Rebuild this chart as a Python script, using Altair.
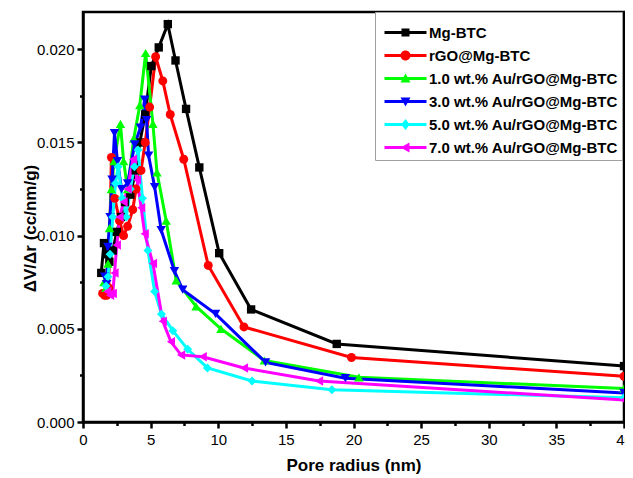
import altair as alt
import pandas as pd

series_names = ["Mg-BTC", "rGO@Mg-BTC", "1.0 wt.% Au/rGO@Mg-BTC",
                "3.0 wt.% Au/rGO@Mg-BTC", "5.0 wt.% Au/rGO@Mg-BTC", "7.0 wt.% Au/rGO@Mg-BTC"]
series_colors = ["#000000", "#ff0000", "#00ff00", "#0000ff", "#00ffff", "#ff00ff"]
plot_shapes = ["square", "circle", "triangle-up", "triangle-down", "diamond", "triangle-left"]
plot_sizes = [70, 80, 90, 90, 80, 90]

mg_x = [1.35, 1.55, 1.75, 1.95, 2.2, 2.5, 2.8, 3.1, 3.5, 3.9, 4.2, 4.6, 5.05, 5.6, 6.27, 6.84, 7.62, 8.6, 10.07, 12.43, 18.76, 40.0]
mg_y = [0.0080, 0.0096, 0.0090, 0.0086, 0.0092, 0.0102, 0.0110, 0.0118, 0.0122, 0.0135, 0.0150, 0.0165, 0.0191, 0.0201, 0.02135, 0.0194, 0.0168, 0.01366, 0.00906, 0.00604, 0.00419, 0.0030]

rgo_x = [1.45, 1.6, 1.75, 1.9, 2.1, 2.35, 2.7, 3.0, 3.3, 3.68, 3.92, 4.29, 4.6, 4.93, 5.37, 5.9, 6.45, 7.45, 9.26, 11.9, 19.85, 40.0]
rgo_y = [0.0069, 0.0068, 0.0068, 0.0072, 0.0142, 0.0120, 0.0108, 0.0100, 0.0105, 0.0114, 0.0125, 0.0135, 0.0150, 0.0169, 0.0196, 0.0183, 0.0165, 0.0141, 0.0084, 0.0051, 0.00346, 0.00245]

au1_x = [1.55, 1.7, 1.85, 1.96, 2.1, 2.3, 2.77, 3.0, 3.3, 3.75, 4.2, 4.63, 5.17, 5.47, 6.15, 6.89, 8.36, 10.2, 13.4, 20.4, 40.0]
au1_y = [0.0075, 0.0072, 0.0085, 0.0104, 0.0125, 0.0140, 0.0160, 0.0140, 0.0125, 0.0152, 0.0170, 0.0198, 0.0160, 0.0134, 0.0108, 0.0076, 0.0062, 0.0050, 0.0033, 0.0024, 0.0018]

au3_x = [1.6, 1.75, 1.84, 2.0, 2.15, 2.33, 2.55, 2.85, 3.3, 3.82, 4.25, 4.56, 4.7, 4.85, 5.3, 5.78, 6.76, 7.37, 9.8, 13.5, 19.4, 40.0]
au3_y = [0.0078, 0.0074, 0.0094, 0.0110, 0.0130, 0.0155, 0.0140, 0.0125, 0.0128, 0.0149, 0.0158, 0.0173, 0.0162, 0.0143, 0.0126, 0.0103, 0.0081, 0.0071, 0.0058, 0.0032, 0.00235, 0.00156]

au5_x = [1.7, 1.85, 2.0, 2.2, 2.4, 2.6, 2.9, 3.2, 3.5, 3.8, 4.07, 4.4, 4.8, 5.3, 5.8, 6.64, 7.74, 9.2, 12.5, 18.4, 40.0]
au5_y = [0.0073, 0.0078, 0.0090, 0.0110, 0.0128, 0.0137, 0.0120, 0.0110, 0.0125, 0.0137, 0.0146, 0.0120, 0.0092, 0.0070, 0.0058, 0.0049, 0.0039, 0.0029, 0.0022, 0.00173, 0.0013]

au7_x = [1.8, 2.0, 2.2, 2.33, 2.5, 2.7, 3.0, 3.3, 3.7, 4.0, 4.3, 4.56, 5.17, 5.9, 6.5, 7.25, 8.85, 11.9, 17.45, 40.0]
au7_y = [0.0070, 0.0068, 0.0069, 0.0080, 0.0095, 0.0110, 0.0118, 0.0125, 0.0141, 0.0130, 0.0115, 0.0101, 0.0085, 0.0054, 0.0043, 0.0036, 0.0035, 0.0029, 0.0022, 0.00118]

x_major = [0, 5, 10, 15, 20, 25, 30, 35, 40]
x_minor = [2.5, 7.5, 12.5, 17.5, 22.5, 27.5, 32.5, 37.5]
y_major = [0.0, 0.005, 0.010, 0.015, 0.020]
y_minor = [0.0025, 0.0075, 0.0125, 0.0175]

all_x = [mg_x, rgo_x, au1_x, au3_x, au5_x, au7_x]
all_y = [mg_y, rgo_y, au1_y, au3_y, au5_y, au7_y]
rows = []
for name, xs_, ys_ in zip(series_names, all_x, all_y):
    for xv, yv in zip(xs_, ys_):
        rows.append({"series": name, "x": xv, "y": yv})
df = pd.DataFrame(rows)

# legend symbols: a line segment with the marker on it
seg = "M-4.2,-0.3H4.2V0.3H-4.2Z"
legend_paths = [
    seg + "M-0.8,-0.8H0.8V0.8H-0.8Z",
    seg + "M-1,0A1,1 0 1,1 1,0A1,1 0 1,1 -1,0Z",
    seg + "M0,-1L1,0.8H-1Z",
    seg + "M0,1L-1,-0.8H1Z",
    seg + "M0,-1.1L0.85,0L0,1.1L-0.85,0Z",
    seg + "M-1,0L0.8,-1V1Z",
]

FONT = "Liberation Sans"
xs = alt.Scale(domain=[0, 40], nice=False, zero=False)
ys = alt.Scale(domain=[0, 0.022], nice=False, zero=False)
cs = alt.Scale(domain=series_names, range=series_colors)

x_main_axis = alt.Axis(orient="bottom", values=x_major, title="Pore radius (nm)", labelFlush=False,
                       tickSize=6, labelPadding=4, titlePadding=10, grid=False)
y_main_axis = alt.Axis(orient="left", values=y_major, format=".3f", title="ΔV/Δr (cc/nm/g)",
                       tickSize=6, labelPadding=3, titleX=-53, titleY=216,
                       titleBaseline="middle", grid=False)
x_minor_axis = alt.Axis(orient="bottom", values=x_minor, labels=False, title="",
                        domain=False, tickSize=3.5, grid=False)
y_minor_axis = alt.Axis(orient="left", values=y_minor, labels=False, title="",
                        domain=False, tickSize=3.5, grid=False)

base = alt.Chart(df)

leg = alt.Legend(orient="none", legendX=292, legendY=0, title=" ", titleFontSize=6,
                 titlePadding=3, padding=4, strokeColor="#a0a0a0", fillColor="white",
                 symbolSize=100, symbolStrokeWidth=0, symbolOpacity=1,
                 symbolOffset=19, labelOffset=16, rowPadding=7,
                 labelFont=FONT, labelFontWeight="bold", labelFontSize=15,
                 labelColor="black", labelLimit=400)

legend_layer = base.mark_point(filled=True, opacity=0).encode(
    x=alt.X("x:Q", scale=xs, axis=x_minor_axis),
    y=alt.Y("y:Q", scale=ys, axis=y_minor_axis),
    color=alt.Color("series:N", scale=cs, legend=leg),
    shape=alt.Shape("series:N", scale=alt.Scale(domain=series_names, range=legend_paths), legend=leg),
)

line_layers = []
point_layers = []
for i, (name, col, shp, sz) in enumerate(zip(series_names, series_colors, plot_shapes, plot_sizes)):
    sub = base.transform_filter(alt.datum.series == name)
    if i == 0:
        xe = alt.X("x:Q", scale=xs, axis=x_main_axis)
        ye = alt.Y("y:Q", scale=ys, axis=y_main_axis)
    else:
        xe = alt.X("x:Q", scale=xs, axis=None)
        ye = alt.Y("y:Q", scale=ys, axis=None)
    line_layers.append(sub.mark_line(strokeWidth=3, color=col, clip=True).encode(x=xe, y=ye))
    point_layers.append(
        sub.mark_point(filled=True, shape=shp, size=sz, color=col, opacity=1, clip=True).encode(
            x=alt.X("x:Q", scale=xs, axis=None),
            y=alt.Y("y:Q", scale=ys, axis=None),
        )
    )

chart = alt.layer(legend_layer, *line_layers, *point_layers).resolve_axis(
    x="independent", y="independent"
).properties(
    width=541, height=410, autosize="none",
    padding={"left": 75, "top": 4, "right": 1, "bottom": 54},
).configure_view(
    stroke="black", strokeWidth=2.5
).configure_axis(
    domainColor="black", domainWidth=2.5, tickColor="black", tickWidth=2.5,
    labelFont=FONT, labelFontSize=15, labelColor="black",
    titleFont=FONT, titleFontSize=17, titleFontWeight="bold", titleColor="black",
)

chart.save("out.html", embed_options={"renderer": "svg", "actions": False})
